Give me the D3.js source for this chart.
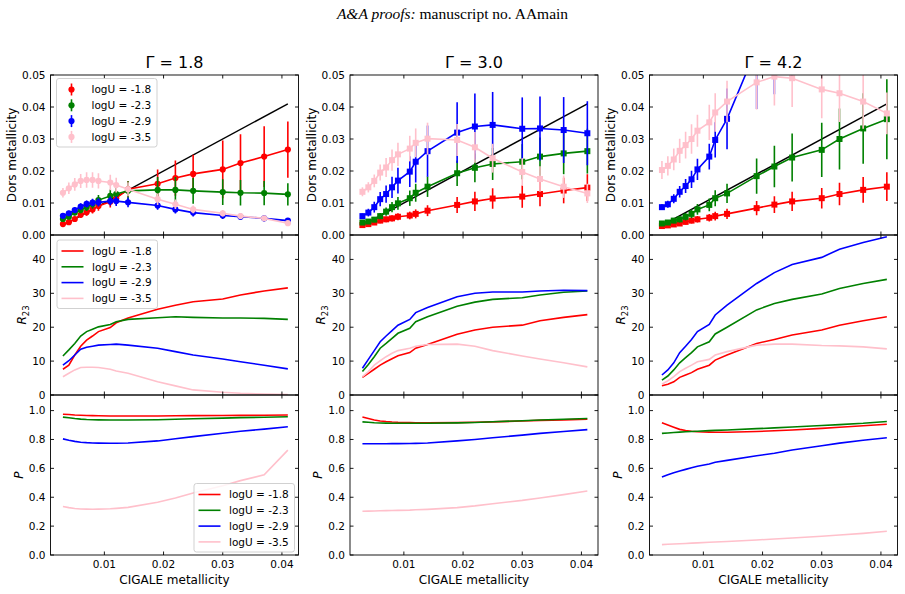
<!DOCTYPE html>
<html>
<head>
<meta charset="UTF-8">
<title>Dors vs CIGALE metallicity</title>
<script src="https://cdn.jsdelivr.net/npm/d3@7"></script>
<style>
  body{ margin:0; background:#fff; }
  svg{ display:block; font-family:"DejaVu Sans", sans-serif; }
</style>
</head>
<body>
<div id="chart"></div>
<script>
// ---- data ----
const cigaleZ = [0.003,0.004,0.005,0.006,0.007,0.008,0.009,0.011,0.012,0.014,0.019,0.022,0.025,0.030,0.033,0.037,0.041];
const logU = ['-1.8','-2.3','-2.9','-3.5'];
const colors = ['red','green','blue','pink'];
const gammas = ['1.8','3.0','4.2'];

// Dors metallicity (series order: logU -1.8, -2.3, -2.9, -3.5)
const dorsG18 = [
  [0.0034,0.0040,0.0050,0.0063,0.0071,0.0080,0.0091,0.0104,0.0115,0.0143,0.0160,0.0178,0.0191,0.0205,0.0225,0.0245,0.0267],
  [0.0050,0.0057,0.0070,0.0078,0.0087,0.0096,0.0109,0.0122,0.0128,0.0138,0.0141,0.0141,0.0138,0.0134,0.0132,0.0131,0.0127],
  [0.0060,0.0068,0.0078,0.0089,0.0097,0.0101,0.0102,0.0106,0.0106,0.0102,0.0092,0.0080,0.0070,0.0061,0.0057,0.0052,0.0045],
  [0.0132,0.0146,0.0158,0.0169,0.0172,0.0172,0.0169,0.0164,0.0156,0.0143,0.0112,0.0096,0.0080,0.0068,0.0059,0.0052,0.0037]
];
const dorsErrG18 = [
  [0.0004,0.0005,0.0007,0.0009,0.0011,0.0013,0.0015,0.0018,0.0020,0.0025,0.0045,0.0055,0.0060,0.0090,0.0090,0.0095,0.0088],
  [0.0005,0.0006,0.0008,0.0010,0.0012,0.0014,0.0016,0.0020,0.0022,0.0030,0.0040,0.0040,0.0040,0.0040,0.0040,0.0038,0.0035],
  [0.0007,0.0008,0.0009,0.0010,0.0011,0.0012,0.0013,0.0014,0.0015,0.0015,0.0013,0.0013,0.0012,0.0011,0.0010,0.0010,0.0008],
  [0.0015,0.0018,0.0020,0.0022,0.0024,0.0024,0.0024,0.0024,0.0023,0.0022,0.0018,0.0015,0.0012,0.0010,0.0009,0.0008,0.0007]
];
const dorsG30 = [
  [0.0031,0.0034,0.0039,0.0045,0.0049,0.0052,0.0057,0.0061,0.0066,0.0076,0.0094,0.0105,0.0114,0.0120,0.0128,0.0139,0.0148],
  [0.0039,0.0042,0.0048,0.0059,0.0073,0.0087,0.0099,0.0115,0.0132,0.0151,0.0193,0.0210,0.0222,0.0229,0.0245,0.0255,0.0262],
  [0.0059,0.0070,0.0087,0.0112,0.0128,0.0149,0.0170,0.0198,0.0229,0.0262,0.0320,0.0339,0.0344,0.0332,0.0333,0.0328,0.0318],
  [0.0135,0.0149,0.0169,0.0195,0.0211,0.0234,0.0252,0.0270,0.0288,0.0301,0.0297,0.0274,0.0240,0.0197,0.0175,0.0151,0.0130]
];
const dorsErrG30 = [
  [0.0004,0.0005,0.0006,0.0008,0.0009,0.0010,0.0011,0.0012,0.0014,0.0017,0.0025,0.0030,0.0032,0.0035,0.0038,0.0040,0.0042],
  [0.0005,0.0006,0.0008,0.0010,0.0013,0.0016,0.0020,0.0024,0.0028,0.0032,0.0040,0.0045,0.0050,0.0055,0.0060,0.0065,0.0070],
  [0.0008,0.0012,0.0017,0.0022,0.0027,0.0033,0.0040,0.0048,0.0065,0.0080,0.0095,0.0103,0.0103,0.0098,0.0100,0.0103,0.0100],
  [0.0014,0.0016,0.0020,0.0025,0.0030,0.0033,0.0036,0.0040,0.0045,0.0050,0.0050,0.0048,0.0045,0.0043,0.0040,0.0035,0.0030]
];
const dorsG42 = [
  [0.0028,0.0030,0.0033,0.0036,0.0041,0.0045,0.0049,0.0054,0.0059,0.0066,0.0084,0.0095,0.0105,0.0115,0.0128,0.0141,0.0151],
  [0.0036,0.0039,0.0045,0.0049,0.0057,0.0066,0.0080,0.0094,0.0115,0.0130,0.0184,0.0214,0.0242,0.0266,0.0300,0.0333,0.0362],
  [0.0087,0.0096,0.0113,0.0135,0.0153,0.0174,0.0205,0.0245,0.0297,0.0363,0.0584,0.0640,0.0690,0.0730,0.0760,0.0790,0.0810],
  [0.0203,0.0216,0.0236,0.0263,0.0281,0.0300,0.0326,0.0352,0.0383,0.0417,0.0477,0.0495,0.0490,0.0455,0.0443,0.0417,0.0380]
];
const dorsErrG42 = [
  [0.0004,0.0005,0.0006,0.0007,0.0008,0.0009,0.0010,0.0012,0.0014,0.0016,0.0022,0.0026,0.0030,0.0032,0.0035,0.0040,0.0045],
  [0.0005,0.0006,0.0008,0.0010,0.0012,0.0014,0.0017,0.0020,0.0025,0.0030,0.0055,0.0065,0.0075,0.0085,0.0095,0.0110,0.0125],
  [0.0009,0.0011,0.0014,0.0018,0.0022,0.0027,0.0033,0.0040,0.0055,0.0095,0.0190,0.0200,0.0200,0.0200,0.0200,0.0200,0.0200],
  [0.0028,0.0030,0.0034,0.0038,0.0042,0.0046,0.0050,0.0055,0.0060,0.0065,0.0085,0.0090,0.0090,0.0090,0.0090,0.0085,0.0065]
];

// R23
const r23G18 = [
  [7.6,8.8,11.8,14.4,16.2,17.4,18.7,19.9,21.3,22.7,25.3,26.5,27.5,28.3,29.5,30.7,31.6],
  [11.5,13.3,15.2,17.4,18.7,19.4,20.1,20.8,21.6,22.3,22.8,23.1,22.9,22.7,22.7,22.6,22.3],
  [8.8,10.1,11.8,13.5,14.1,14.4,14.7,14.9,15.0,14.7,13.8,12.8,11.8,10.6,9.8,8.8,7.7],
  [5.4,6.4,7.4,8.1,8.2,8.2,8.1,7.6,7.1,6.4,3.9,2.7,1.5,0.8,0.5,0.3,0.1]
];
const r23G30 = [
  [5.2,6.4,7.6,8.8,9.8,10.7,11.6,12.5,13.8,14.9,17.9,19.2,20.0,20.6,21.9,22.9,23.7],
  [6.9,9.0,11.3,13.8,15.2,16.7,18.2,19.7,21.6,23.1,26.2,27.4,28.2,28.7,29.5,30.3,30.7],
  [7.9,10.5,13.1,15.7,17.4,19.0,20.6,22.3,24.3,25.8,29.0,30.0,30.4,30.4,30.7,30.9,30.8],
  [5.4,6.9,8.8,10.1,11.3,12.3,13.1,13.8,14.4,14.9,15.0,14.4,13.1,11.5,10.6,9.5,8.3]
];
const r23G42 = [
  [2.7,3.2,3.9,5.2,5.9,6.6,7.6,8.8,10.3,11.8,15.2,16.4,17.7,19.2,20.6,21.9,23.1],
  [4.4,5.6,7.4,9.5,11.0,12.5,14.2,15.7,18.0,20.0,25.1,27.0,28.2,29.8,31.4,32.9,34.1],
  [5.9,7.4,9.5,12.5,14.4,16.4,18.7,20.8,23.6,26.5,32.9,36.1,38.5,40.6,43.0,45.0,46.7],
  [3.2,4.2,5.4,6.9,7.9,8.8,9.8,10.5,11.8,12.8,14.7,15.0,15.0,14.6,14.5,14.2,13.6]
];

// P
const pG18 = [
  [0.975,0.973,0.970,0.968,0.966,0.965,0.964,0.963,0.963,0.963,0.963,0.964,0.965,0.966,0.967,0.968,0.970],
  [0.955,0.950,0.945,0.941,0.938,0.937,0.936,0.935,0.935,0.935,0.937,0.940,0.944,0.948,0.951,0.954,0.957],
  [0.804,0.795,0.787,0.781,0.778,0.776,0.775,0.774,0.774,0.776,0.790,0.805,0.820,0.843,0.857,0.872,0.888],
  [0.336,0.328,0.322,0.319,0.318,0.317,0.318,0.320,0.323,0.330,0.365,0.395,0.430,0.480,0.515,0.555,0.726]
];
const pG30 = [
  [0.955,0.945,0.935,0.928,0.924,0.921,0.919,0.917,0.916,0.916,0.917,0.919,0.922,0.928,0.932,0.936,0.940],
  [0.922,0.919,0.916,0.914,0.913,0.912,0.912,0.912,0.912,0.912,0.915,0.918,0.923,0.930,0.935,0.940,0.945],
  [0.770,0.770,0.770,0.770,0.770,0.771,0.771,0.772,0.773,0.776,0.790,0.800,0.812,0.830,0.842,0.855,0.868],
  [0.303,0.304,0.305,0.306,0.307,0.308,0.309,0.311,0.313,0.316,0.328,0.340,0.355,0.378,0.395,0.418,0.443]
];
const pG42 = [
  [0.915,0.900,0.885,0.870,0.862,0.857,0.854,0.851,0.850,0.850,0.855,0.860,0.866,0.877,0.885,0.895,0.905],
  [0.842,0.845,0.848,0.851,0.853,0.855,0.857,0.861,0.863,0.866,0.875,0.880,0.886,0.897,0.903,0.912,0.925],
  [0.540,0.556,0.570,0.582,0.593,0.604,0.615,0.630,0.642,0.655,0.687,0.705,0.727,0.757,0.775,0.795,0.812],
  [0.072,0.074,0.076,0.078,0.080,0.082,0.084,0.088,0.090,0.094,0.104,0.111,0.118,0.130,0.138,0.150,0.165]
];

const xTicks = [0.01,0.02,0.03,0.04];
const dorsTicks = [0,0.01,0.02,0.03,0.04,0.05];
const r23Ticks = [0,10,20,30,40];
const pTicks = [0,0.2,0.4,0.6,0.8,1.0];

// ---- layout ----
const W = 905, H = 594;
const lefts = [50.5, 350, 649.5], pw = 248;
const tops = [75, 235, 395], ph = 160;
const tickLen = 3.5;

const dorsData = [dorsG18, dorsG30, dorsG42];
const dorsErr = [dorsErrG18, dorsErrG30, dorsErrG42];
const r23Data = [r23G18, r23G30, r23G42];
const pData = [pG18, pG30, pG42];

const rows = [
  {domain:[0,0.05], ticks:dorsTicks, fmt:d3.format('.2f'), label:'dors', lx:-38.7},
  {domain:[0,47.2], ticks:r23Ticks, fmt:d3.format('d'), label:'r23', lx:-29},
  {domain:[0,1.108], ticks:pTicks, fmt:d3.format('.1f'), label:'p', lx:-32}
];

const svg = d3.select('#chart').append('svg').attr('width', W).attr('height', H);
svg.append('rect').attr('width', W).attr('height', H).attr('fill', '#fff');

// page header
const head = svg.append('text').attr('x', 452.5).attr('y', 18.5).attr('text-anchor','middle')
  .style('font-family','"Liberation Serif", serif').style('font-size','15.5px').attr('fill','#000');
head.append('tspan').style('font-style','italic').text('A&A proofs:');
head.append('tspan').text(' manuscript no. AAmain');

const defs = svg.append('defs');

function drawPanel(c, r){
  const x0 = lefts[c], y0 = tops[r], cfg = rows[r];
  const xScale = d3.scaleLinear().domain([0.0009, 0.0428]).range([x0, x0 + pw]);
  const yScale = d3.scaleLinear().domain(cfg.domain).range([y0 + ph, y0]);
  const id = `clip${c}${r}`;
  defs.append('clipPath').attr('id', id).append('rect')
    .attr('x', x0).attr('y', y0).attr('width', pw).attr('height', ph);
  const g = svg.append('g');
  const plot = g.append('g').attr('clip-path', `url(#${id})`);
  const line = d3.line().x((d, i) => xScale(cigaleZ[i])).y(d => yScale(d));

  if(r === 0){
    // 1:1 line
    const ends = [cigaleZ[0], cigaleZ[cigaleZ.length - 1]];
    plot.append('line').attr('x1', xScale(ends[0])).attr('y1', yScale(ends[0]))
      .attr('x2', xScale(ends[1])).attr('y2', yScale(ends[1]))
      .attr('stroke', 'black').attr('stroke-width', 1.5);
    dorsData[c].forEach((vals, s) => {
      const errs = dorsErr[c][s];
      const sg = plot.append('g');
      sg.selectAll('line.err').data(vals).enter().append('line')
        .attr('x1', (d, i) => xScale(cigaleZ[i])).attr('x2', (d, i) => xScale(cigaleZ[i]))
        .attr('y1', (d, i) => yScale(d - errs[i])).attr('y2', (d, i) => yScale(d + errs[i]))
        .attr('stroke', colors[s]).attr('stroke-width', 1.6);
      sg.append('path').attr('d', line(vals)).attr('fill', 'none')
        .attr('stroke', colors[s]).attr('stroke-width', 1.6);
      if(c === 0){
        sg.selectAll('circle').data(vals).enter().append('circle')
          .attr('cx', (d, i) => xScale(cigaleZ[i])).attr('cy', d => yScale(d))
          .attr('r', 3.1).attr('fill', colors[s]);
      } else {
        sg.selectAll('rect').data(vals).enter().append('rect')
          .attr('x', (d, i) => xScale(cigaleZ[i]) - 3).attr('y', d => yScale(d) - 3)
          .attr('width', 6).attr('height', 6).attr('fill', colors[s]);
      }
    });
  } else {
    const data = r === 1 ? r23Data[c] : pData[c];
    data.forEach((vals, s) => {
      plot.append('path').attr('d', line(vals)).attr('fill', 'none')
        .attr('stroke', colors[s]).attr('stroke-width', 1.6);
    });
  }

  // frame
  g.append('rect').attr('x', x0).attr('y', y0).attr('width', pw).attr('height', ph)
    .attr('fill', 'none').attr('stroke', 'black').attr('stroke-width', 0.9);

  // ticks (inward, all four sides)
  xTicks.forEach(t => {
    const xp = xScale(t);
    g.append('line').attr('x1', xp).attr('x2', xp).attr('y1', y0 + ph).attr('y2', y0 + ph - tickLen).attr('stroke', 'black').attr('stroke-width', 0.9);
    g.append('line').attr('x1', xp).attr('x2', xp).attr('y1', y0).attr('y2', y0 + tickLen).attr('stroke', 'black').attr('stroke-width', 0.9);
    if(r === 2){
      g.append('text').attr('x', xp).attr('y', y0 + ph + 12.5).attr('text-anchor', 'middle')
        .style('font-size', '10.5px').attr('fill', '#000').text(d3.format('.2f')(t));
    }
  });
  cfg.ticks.forEach(t => {
    const yp = yScale(t);
    g.append('line').attr('x1', x0).attr('x2', x0 + tickLen).attr('y1', yp).attr('y2', yp).attr('stroke', 'black').attr('stroke-width', 0.9);
    g.append('line').attr('x1', x0 + pw).attr('x2', x0 + pw - tickLen).attr('y1', yp).attr('y2', yp).attr('stroke', 'black').attr('stroke-width', 0.9);
    g.append('text').attr('x', x0 - 5).attr('y', yp).attr('dy', '0.36em').attr('text-anchor', 'end')
      .style('font-size', '10.5px').attr('fill', '#000').text(cfg.fmt(t));
  });

  // y label
  const lab = g.append('text').attr('transform', `translate(${x0 + cfg.lx},${y0 + ph / 2}) rotate(-90)`)
    .attr('dy', '0.35em').attr('text-anchor', 'middle').style('font-size', '12px').attr('fill', '#000');
  if(cfg.label === 'dors') lab.text('Dors metallicity');
  else if(cfg.label === 'r23'){
    lab.append('tspan').style('font-style', 'italic').text('R');
    lab.append('tspan').attr('dy', '3').style('font-size', '8.5px').text('23');
  } else lab.append('tspan').style('font-style', 'italic').text('P');

  if(r === 2){
    g.append('text').attr('x', x0 + pw / 2).attr('y', y0 + ph + 29).attr('text-anchor', 'middle')
      .style('font-size', '12px').attr('fill', '#000').text('CIGALE metallicity');
  }
  if(r === 0){
    g.append('text').attr('x', x0 + pw / 2).attr('y', y0 - 7).attr('text-anchor', 'middle')
      .style('font-size', '16px').attr('fill', '#000').text(`\u0393 = ${gammas[c]}`);
  }
  return g;
}

function legend(g, bx, by, kind){
  const bw = 100.5, bh = 68.5;
  g.append('rect').attr('x', bx).attr('y', by).attr('width', bw).attr('height', bh)
    .attr('rx', 2.5).attr('fill', 'white').attr('fill-opacity', 0.8).attr('stroke', '#cccccc').attr('stroke-width', 0.9);
  logU.forEach((u, s) => {
    const cy = by + 11 + s * 15.8;
    if(kind === 'err'){
      g.append('line').attr('x1', bx + 15).attr('x2', bx + 15).attr('y1', cy - 6).attr('y2', cy + 6)
        .attr('stroke', colors[s]).attr('stroke-width', 1.6);
      g.append('circle').attr('cx', bx + 15).attr('cy', cy).attr('r', 3.1).attr('fill', colors[s]);
    } else {
      g.append('line').attr('x1', bx + 4.5).attr('x2', bx + 26.5).attr('y1', cy).attr('y2', cy)
        .attr('stroke', colors[s]).attr('stroke-width', 1.6);
    }
    g.append('text').attr('x', bx + 35).attr('y', cy).attr('dy', '0.36em')
      .style('font-size', '10.5px').attr('fill', '#000').text(`logU = ${u}`);
  });
}

for(let r = 0; r < 3; r++){
  for(let c = 0; c < 3; c++){
    const g = drawPanel(c, r);
    if(c === 0 && r === 0) legend(g, lefts[0] + 6, tops[0] + 3.5, 'err');
    if(c === 0 && r === 1) legend(g, lefts[0] + 6.5, tops[1] + 5, 'line');
    if(c === 0 && r === 2) legend(g, lefts[0] + pw - 104.5, tops[2] + ph - 71.5, 'line');
  }
}
</script>
</body>
</html>
